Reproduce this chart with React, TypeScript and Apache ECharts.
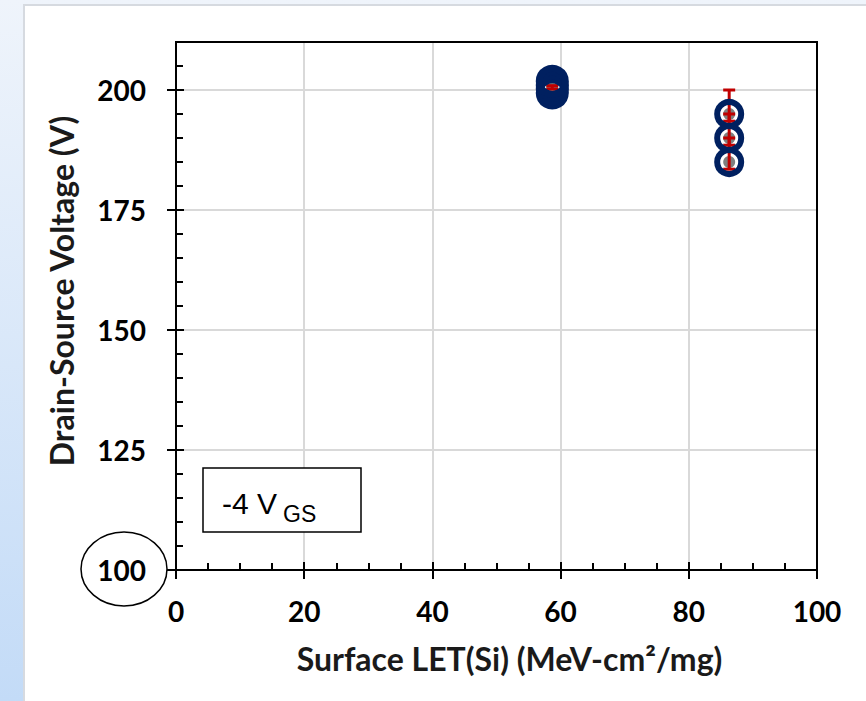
import React, { useEffect, useRef } from 'react';
import * as echarts from 'echarts';

// ---- data ----
const xTicks = [0, 20, 40, 60, 80, 100];
const yTicks = [100, 125, 150, 175, 200];
const clusterA_LET = [58.7, 58.7, 58.7, 58.7];
const clusterA_V = [199.4, 200.2, 201.0, 201.8];
const clusterB_LET = [86.3, 86.3, 86.3];
const clusterB_V = [195, 190, 185];
const errLET = [58.7, 86.3, 86.3, 86.3];
const errLow = [200.2, 193.5, 188.5, 183.5];
const errHigh = [200.9, 200, 195, 190];
const xTitle = 'Surface LET(Si) (MeV-cm²/mg)';
const yTitle = 'Drain-Source Voltage (V)';
const boxMain = '-4 V';
const boxSub = 'GS';

const ptsA = clusterA_LET.map((x, i) => [x, clusterA_V[i]]);
const ptsB = clusterB_LET.map((x, i) => [x, clusterB_V[i]]);
const errData = errLET.map((x, i) => [x, errLow[i], errHigh[i]]);

const FONT = 'Lato';
const tickFont = { fontFamily: FONT, fontWeight: 'bold' as const, fontSize: 28, color: '#000' };
const nameFont = { fontFamily: FONT, fontWeight: 'bold' as const, fontSize: 32, color: '#1a1a1a' };
const black = { color: '#000', width: 2 };
const navy = '#002060';

export default function App() {
  const ref = useRef<HTMLDivElement>(null);
  useEffect(() => {
    const chart = echarts.init(ref.current!, null, { renderer: 'svg' });
    const option: any = {
      animation: false,
      grid: {
        left: 176, right: 49, top: 42, bottom: 131,
        show: true, borderColor: '#000', borderWidth: 2, backgroundColor: 'transparent', z: 3,
      },
      xAxis: [
        {
          type: 'value', min: 0, max: 100, interval: 20, position: 'bottom',
          name: xTitle, nameLocation: 'middle', nameGap: 72,
          nameTextStyle: { ...nameFont, padding: [0, 0, 0, 26] },
          axisLine: { show: true, onZero: false, lineStyle: black },
          axisTick: { show: true, inside: true, length: 8, lineStyle: black, customValues: xTicks },
          minorTick: { show: true, splitNumber: 4, length: 7, lineStyle: black },
          axisLabel: { ...tickFont, margin: 27, customValues: xTicks },
          splitLine: { show: true, lineStyle: { color: '#d9d9d9', width: 2 } },
        },
        {
          type: 'value', min: 0, max: 100, interval: 20, position: 'bottom',
          axisLine: { show: false },
          axisTick: { show: true, inside: false, length: 9, lineStyle: black, customValues: xTicks },
          axisLabel: { show: false },
          splitLine: { show: false },
        },
      ],
      yAxis: [
        {
          type: 'value', min: 100, max: 210, interval: 25, position: 'left',
          name: yTitle, nameLocation: 'middle', nameGap: 99,
          nameTextStyle: { ...nameFont, padding: [0, 0, 0, 30] },
          axisLine: { show: true, onZero: false, lineStyle: black },
          axisTick: { show: true, inside: true, length: 8, lineStyle: black, customValues: yTicks },
          minorTick: { show: true, splitNumber: 5, length: 7, lineStyle: black },
          axisLabel: {
            ...tickFont, margin: 30, customValues: yTicks,
            formatter: (v: number) => (yTicks.includes(v) ? String(v) : ''),
          },
          splitLine: { show: true, lineStyle: { color: '#d9d9d9', width: 2 } },
        },
        {
          type: 'value', min: 100, max: 210, interval: 25, position: 'left',
          axisLine: { show: false },
          axisTick: { show: true, inside: false, length: 9, lineStyle: black, customValues: yTicks },
          axisLabel: { show: false },
          splitLine: { show: false },
        },
      ],
      series: [
        {
          type: 'scatter', data: [...ptsA, ...ptsB], symbol: 'circle', symbolSize: 12,
          itemStyle: { color: '#7f7f7f', opacity: 1 }, z: 2, silent: true,
        },
        {
          type: 'custom', data: errData, z: 3, encode: { x: 0, y: [1, 2] },
          renderItem: (params: any, api: any) => {
            const x = api.value(0);
            const lo = api.coord([x, api.value(1)]);
            const hi = api.coord([x, api.value(2)]);
            const h = 6;
            const st = { stroke: '#c00000', lineWidth: 3 };
            return {
              type: 'group',
              children: [
                { type: 'line', shape: { x1: lo[0], y1: lo[1], x2: hi[0], y2: hi[1] }, style: st },
                { type: 'line', shape: { x1: hi[0] - h, y1: hi[1], x2: hi[0] + h, y2: hi[1] }, style: st },
                { type: 'line', shape: { x1: lo[0] - h, y1: lo[1], x2: lo[0] + h, y2: lo[1] }, style: st },
              ],
            };
          },
        },
        {
          type: 'scatter', data: ptsA, symbol: 'circle', symbolSize: 26, z: 4,
          itemStyle: { color: 'rgba(0,0,0,0)', borderColor: navy, borderWidth: 7, opacity: 1 },
        },
        {
          type: 'scatter', data: ptsB, symbol: 'circle', symbolSize: 24, z: 4,
          itemStyle: { color: 'rgba(0,0,0,0)', borderColor: navy, borderWidth: 6, opacity: 1 },
        },
      ],
      graphic: [
        {
          type: 'ellipse', z: 100, silent: true,
          shape: { cx: 124, cy: 569, rx: 43, ry: 37 },
          style: { fill: 'none', stroke: '#000', lineWidth: 1.5 },
        },
        {
          type: 'rect', z: 100, silent: true,
          shape: { x: 203, y: 468, width: 158, height: 64 },
          style: { fill: '#fff', stroke: '#000', lineWidth: 1.5 },
        },
        {
          type: 'text', z: 101, x: 222, y: 503, silent: true,
          style: { text: boxMain, fontFamily: 'Liberation Sans', fontSize: 30, fill: '#000', verticalAlign: 'middle' },
        },
        {
          type: 'text', z: 101, x: 283, y: 514, silent: true,
          style: { text: boxSub, fontFamily: 'Liberation Sans', fontSize: 23, fill: '#000', verticalAlign: 'middle' },
        },
      ],
    };
    chart.setOption(option);
    return () => chart.dispose();
  }, []);

  return (
    <div
      style={{
        position: 'fixed', left: 0, top: 0, width: 866, height: 701, overflow: 'hidden',
        background: 'linear-gradient(to bottom, #eff4fb, #c3dbf7)',
      }}
    >
      <div
        style={{
          position: 'absolute', left: 23, top: 4, width: 900, height: 800,
          background: '#fff', border: '2px solid #d6dae0',
        }}
      />
      <div ref={ref} style={{ position: 'absolute', left: 0, top: 0, width: 866, height: 701 }} />
    </div>
  );
}
